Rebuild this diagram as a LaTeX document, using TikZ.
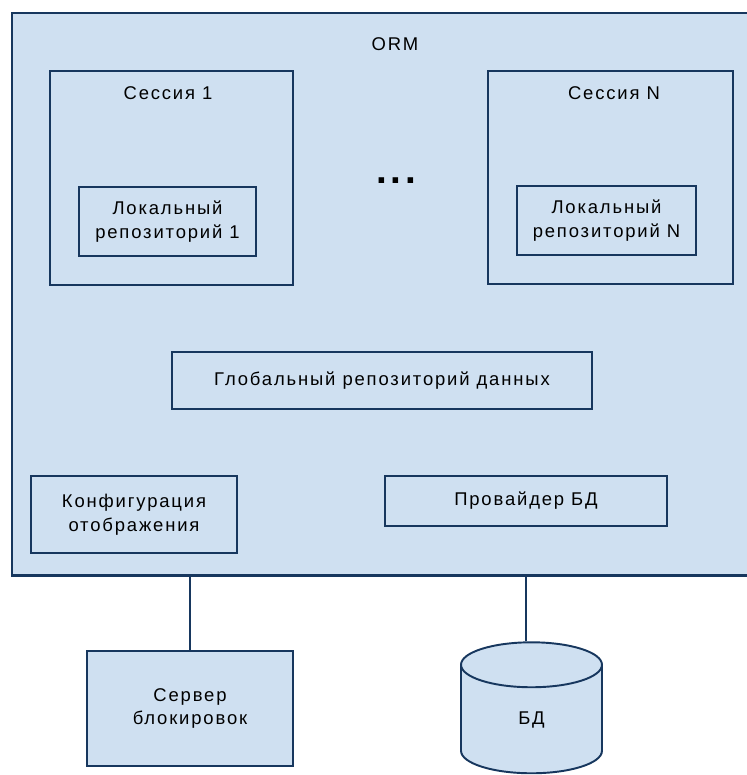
\documentclass[tikz,border=0pt]{standalone}
\usepackage{fontspec}
\setmainfont{Liberation Sans}[LetterSpace=10]
\usetikzlibrary{shapes.geometric}
\definecolor{boxfill}{HTML}{CFE0F1}
\definecolor{boxline}{HTML}{17375E}
\begin{document}
\begin{tikzpicture}[x=0.02cm,y=-0.02cm,
    blk/.style={draw=boxline,fill=boxfill,line width=1.1pt,inner sep=0pt,align=center,font=\fontsize{10.5}{13.5}\selectfont},
    lbl/.style={inner sep=0pt,font=\fontsize{10.5}{13.5}\selectfont}]
    \clip (0,0) rectangle (747,775);
    \fill[white] (0,0) rectangle (747,775);
    % outer box, its right side runs past the page
    \node[blk,line width=0.8pt,minimum width=15.56cm,minimum height=11.24cm] (orm) at (401,294) {};
    \draw[boxline,line width=2pt] (orm.south west) -- (orm.south east);
    \node[lbl] (ormt) at (395,44) {ORM};
    % sessions
    \node[blk,minimum width=4.86cm,minimum height=4.28cm] (s1) at (171.5,178) {};
    \node[lbl] (s1t) at (168,93) {Сессия 1};
    \node[blk,minimum width=3.54cm,minimum height=1.38cm] (r1) at (167.5,221.5) {Локальный\\репозиторий 1};
    \node[blk,minimum width=4.90cm,minimum height=4.26cm] (sn) at (610.5,177.5) {};
    \node[lbl] (snt) at (614,93) {Сессия N};
    \node[blk,minimum width=3.58cm,minimum height=1.38cm] (rn) at (606.5,220.5) {Локальный\\репозиторий N};
    \node[lbl,font=\fontsize{22}{22}\selectfont\bfseries] (dots) at (396,181) {...};
    % shared parts
    \node[blk,minimum width=8.4cm,minimum height=1.14cm] (glob) at (382,380.5) {Глобальный репозиторий данных};
    \node[blk,minimum width=4.12cm,minimum height=1.54cm] (cfg) at (134,514.5) {Конфигурация\\отображения};
    \node[blk,minimum width=5.64cm,minimum height=1.0cm] (prov) at (526,501) {Провайдер БД};
    % outside
    \node[blk,minimum width=4.12cm,minimum height=2.3cm] (srv) at (190,708.5) {Сервер\\блокировок};
    \node[blk,cylinder,shape border rotate=90,aspect=1.7,cylinder uses custom fill,cylinder body fill=boxfill,cylinder end fill=boxfill,minimum width=2.82cm,minimum height=2.62cm] (db) at (531.5,719.5) {БД};
    \draw[boxline,line width=1.1pt] (srv.north) -- (srv.north |- orm.south);
    \draw[boxline,line width=1.1pt] ([xshift=-0.11cm]db.north) -- ([xshift=-0.11cm]db.north |- orm.south);
\end{tikzpicture}
\end{document}
